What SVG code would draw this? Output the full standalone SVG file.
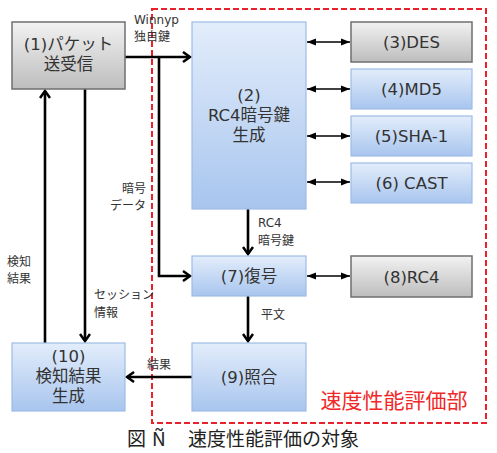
<svg xmlns="http://www.w3.org/2000/svg" width="497" height="453" viewBox="0 0 497 453">
<defs>
<linearGradient id="gBlue" x1="0" y1="0" x2="0" y2="1">
<stop offset="0" stop-color="#e3edfb"/>
<stop offset="1" stop-color="#a8c5ee"/>
</linearGradient>
<linearGradient id="gGray" x1="0" y1="0" x2="0" y2="1">
<stop offset="0" stop-color="#f2f2f2"/>
<stop offset="1" stop-color="#bdbdbd"/>
</linearGradient>
<marker id="open" markerWidth="12" markerHeight="12" refX="9" refY="6" orient="auto" markerUnits="userSpaceOnUse">
<path d="M2,1 L9,6 L2,11" fill="none" stroke="#000" stroke-width="2.5"/>
</marker>
<marker id="tri" markerWidth="10" markerHeight="8" refX="9" refY="4" orient="auto-start-reverse" markerUnits="userSpaceOnUse">
<path d="M0,0.5 L9,4 L0,7.5 Z" fill="#000"/>
</marker>
</defs>
<style>
.blue{fill:url(#gBlue);stroke:#9dbbe6;stroke-width:1.2}
.gray{fill:url(#gGray);stroke:#6f6f6f;stroke-width:1.5}
.t{font-family:"DejaVu Sans","Noto Sans CJK JP",sans-serif;font-size:16.5px;fill:#333;text-anchor:middle}
.s{font-family:"DejaVu Sans","Noto Sans CJK JP",sans-serif;font-size:12px;fill:#333}
.ln{fill:none;stroke:#000;stroke-width:2.6}
.dl{fill:none;stroke:#000;stroke-width:1.6}
.cap{font-family:"Noto Sans CJK JP",sans-serif;font-size:19px;fill:#222}
</style>
<rect x="152" y="9" width="334" height="414" fill="none" stroke="#e8212b" stroke-width="2" stroke-dasharray="6,3"/>
<text x="394" y="408" font-family="'Noto Sans CJK JP',sans-serif" font-size="21" fill="#f02828" text-anchor="middle">速度性能評価部</text>
<g id="connectors">
<path class="ln" d="M125,57 H190" marker-end="url(#open)"/>
<path class="ln" d="M159,57 V276 H190" marker-end="url(#open)"/>
<path class="ln" d="M85,89 V341" marker-end="url(#open)"/>
<path class="ln" d="M45,343 V91" marker-end="url(#open)"/>
<path class="ln" d="M248,209 V254" marker-end="url(#open)"/>
<path class="ln" d="M248,296 V341" marker-end="url(#open)"/>
<path class="ln" d="M192,377 H127" marker-end="url(#open)"/>
<path class="dl" d="M307,42 H350" marker-start="url(#tri)" marker-end="url(#tri)"/>
<path class="dl" d="M307,89 H350" marker-start="url(#tri)" marker-end="url(#tri)"/>
<path class="dl" d="M307,136 H350" marker-start="url(#tri)" marker-end="url(#tri)"/>
<path class="dl" d="M307,182 H350" marker-start="url(#tri)" marker-end="url(#tri)"/>
<path class="dl" d="M307,276 H350" marker-start="url(#tri)" marker-end="url(#tri)"/>
<text class="s" x="134" y="24">Winnyp</text>
<text class="s" x="134" y="41">独自鍵</text>
<text class="s" x="146" y="193" text-anchor="end">暗号</text>
<text class="s" x="146" y="210" text-anchor="end">データ</text>
<text class="s" x="7" y="266">検知</text>
<text class="s" x="7" y="283">結果</text>
<text class="s" x="94" y="299">セッション</text>
<text class="s" x="94" y="317">情報</text>
<text class="s" x="258" y="227">RC4</text>
<text class="s" x="258" y="245">暗号鍵</text>
<text class="s" x="261" y="319">平文</text>
<text class="s" x="147" y="369">結果</text>
</g>
<g id="n1"><rect class="gray" x="12" y="22" width="113" height="67"/><text class="t" x="68.5" y="50">(1)パケット</text><text class="t" x="68.5" y="70">送受信</text></g>
<g id="n2"><rect class="blue" x="192" y="22" width="114" height="187"/><text class="t" x="249" y="101">(2)</text><text class="t" x="249" y="121">RC4暗号鍵</text><text class="t" x="249" y="141">生成</text></g>
<g id="n3"><rect class="gray" x="351" y="22" width="121" height="40"/><text class="t" x="411.5" y="48">(3)DES</text></g>
<g id="n4"><rect class="blue" x="351" y="69" width="121" height="40"/><text class="t" x="411.5" y="95">(4)MD5</text></g>
<g id="n5"><rect class="blue" x="351" y="116" width="121" height="40"/><text class="t" x="411.5" y="142">(5)SHA-1</text></g>
<g id="n6"><rect class="blue" x="351" y="163" width="121" height="40"/><text class="t" x="411.5" y="189">(6) CAST</text></g>
<g id="n7"><rect class="blue" x="192" y="256" width="114" height="40"/><text class="t" x="249" y="282">(7)復号</text></g>
<g id="n8"><rect class="gray" x="351" y="256" width="121" height="41"/><text class="t" x="411.5" y="283">(8)RC4</text></g>
<g id="n9"><rect class="blue" x="192" y="343" width="114" height="68"/><text class="t" x="249" y="383">(9)照合</text></g>
<g id="n10"><rect class="blue" x="12" y="343" width="113" height="68"/><text class="t" x="68.5" y="362">(10)</text><text class="t" x="68.5" y="382">検知結果</text><text class="t" x="68.5" y="402">生成</text></g>
<text class="cap" x="127" y="446">図</text>
<text class="cap" x="152" y="446">Ñ</text>
<text class="cap" x="188" y="446">速度性能評価の対象</text>
</svg>
